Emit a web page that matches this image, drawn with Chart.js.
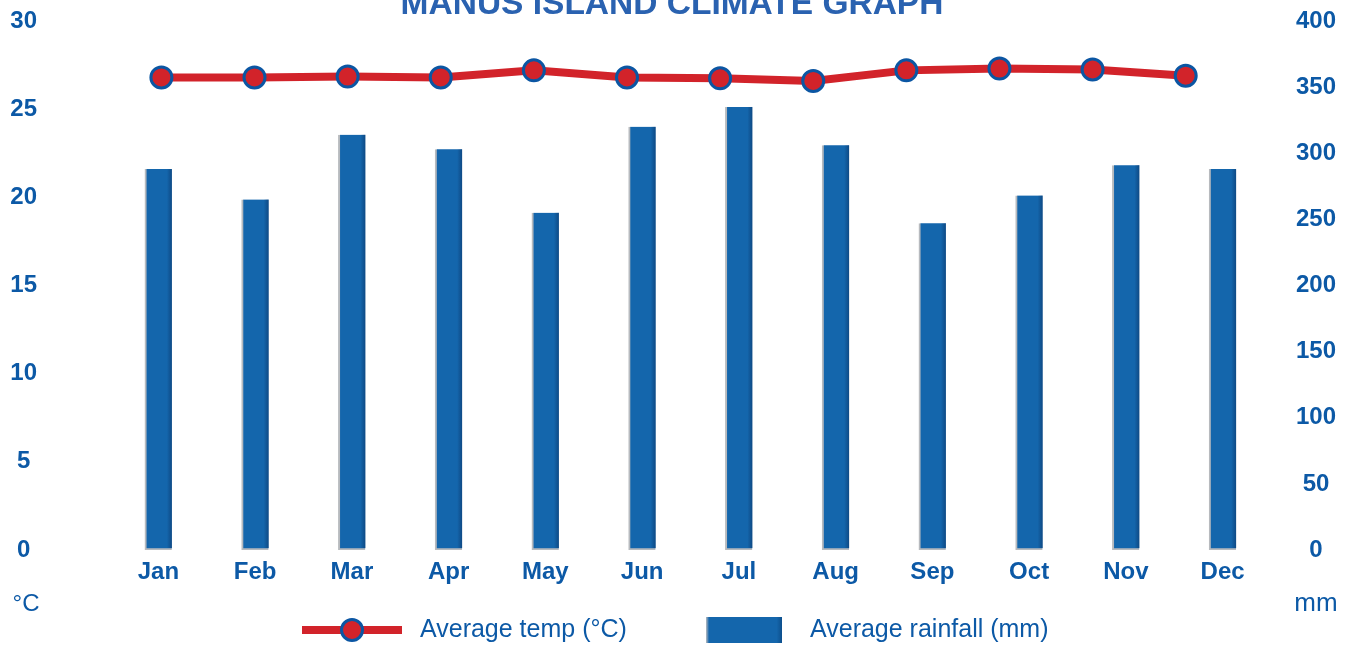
<!DOCTYPE html>
<html>
<head>
<meta charset="utf-8">
<script src="https://cdn.jsdelivr.net/npm/chart.js@4.4.0/dist/chart.umd.min.js"></script>
<style>
  html, body { margin: 0; padding: 0; background: #fff; }
  #wrap { position: relative; width: 1354px; height: 646px; overflow: hidden; }
</style>
</head>
<body>
<div id="wrap"><canvas id="climateChart" width="1354" height="646"></canvas></div>
<script>
'use strict';

/* --- Data --- */
const MONTHS = ['Jan', 'Feb', 'Mar', 'Apr', 'May', 'Jun', 'Jul', 'Aug', 'Sep', 'Oct', 'Nov', 'Dec'];
const TEMP_C = [26.8, 26.8, 26.85, 26.8, 27.2, 26.8, 26.75, 26.6, 27.2, 27.3, 27.25, 26.9];
const RAIN_MM = [288, 265, 314, 303, 255, 320, 335, 306, 247, 268, 291, 288];
const TEMP_TICKS = [0, 5, 10, 15, 20, 25, 30];
const RAIN_TICKS = [0, 50, 100, 150, 200, 250, 300, 350, 400];

const TITLE = 'MANUS ISLAND CLIMATE GRAPH';
const TEMP_LABEL = 'Average temp (\u00B0C)';
const RAIN_LABEL = 'Average rainfall (mm)';

const TEXT_BLUE = '#0c59a6';
const BAR_BLUE = '#1466ac';
const RED = '#d2232a';
const POINT_EDGE = '#0b56a3';
const FONT = '"Liberation Sans", Arial, Helvetica, sans-serif';

Chart.defaults.font.family = FONT;
Chart.defaults.color = TEXT_BLUE;

/* --- Extras: bar shading, title, unit labels, legend --- */
const extrasPlugin = {
  id: 'climateExtras',
  afterDatasetDraw(chart, args) {
    if (args.meta.type !== 'bar') return;
    const c = chart.ctx;
    args.meta.data.forEach(bar => {
      const { x, y, base, width } = bar.getProps(['x', 'y', 'base', 'width'], true);
      const right = x + width / 2;
      const g = c.createLinearGradient(right - 5, 0, right, 0);
      g.addColorStop(0, 'rgba(10,50,100,0)');
      g.addColorStop(1, 'rgba(10,50,100,0.55)');
      c.save();
      c.fillStyle = g;
      c.fillRect(right - 5, y, 5, base - y - 2);
      c.restore();
    });
  },
  afterDraw(chart) {
    const c = chart.ctx;
    c.save();
    // title, mostly cut off at the top edge
    c.fillStyle = '#2a62b0';
    c.font = 'bold 33.5px ' + FONT;
    c.textAlign = 'center';
    c.textBaseline = 'alphabetic';
    c.fillText(TITLE, 672, 14);

    // axis units
    c.fillStyle = TEXT_BLUE;
    c.font = '24px ' + FONT;
    c.fillText('\u00B0C', 26, 611);
    c.font = '26px ' + FONT;
    c.fillText('mm', 1316, 611);

    // legend: temperature
    c.strokeStyle = RED;
    c.lineWidth = 8;
    c.beginPath();
    c.moveTo(302, 630);
    c.lineTo(402, 630);
    c.stroke();
    c.beginPath();
    c.arc(352, 630, 10.5, 0, Math.PI * 2);
    c.fillStyle = RED;
    c.fill();
    c.lineWidth = 3;
    c.strokeStyle = POINT_EDGE;
    c.stroke();

    // legend: rainfall
    const g = c.createLinearGradient(706, 0, 782, 0);
    g.addColorStop(0, '#b9bcc0');
    g.addColorStop(0.04, BAR_BLUE);
    g.addColorStop(0.93, BAR_BLUE);
    g.addColorStop(1, '#0d4f8c');
    c.fillStyle = g;
    c.fillRect(706, 617, 76, 26);

    c.fillStyle = TEXT_BLUE;
    c.font = '25px ' + FONT;
    c.textAlign = 'left';
    c.fillText(TEMP_LABEL, 420, 637);
    c.fillText(RAIN_LABEL, 810, 637);
    c.restore();
  }
};

/* keep tick padding from pushing the plot area around */
function fixedWidth(w) {
  return s => { s.width = w; s.paddingTop = 0; s.paddingBottom = 0; };
}

/* --- Chart --- */
const ctx = document.getElementById('climateChart');
new Chart(ctx, {
  data: {
    labels: MONTHS,
    datasets: [{
      type: 'line',
      label: TEMP_LABEL,
      data: TEMP_C.map((t, i) => ({ x: i, y: t })),
      xAxisID: 'xLine',
      yAxisID: 'yTemp',
      borderColor: RED,
      borderWidth: 8,
      tension: 0,
      pointRadius: 10.5,
      pointBorderWidth: 3,
      pointBackgroundColor: RED,
      pointBorderColor: POINT_EDGE,
      order: 0
    }, {
      type: 'bar',
      label: RAIN_LABEL,
      data: RAIN_MM,
      xAxisID: 'x',
      yAxisID: 'yRain',
      backgroundColor: BAR_BLUE,
      borderColor: '#b7babe',
      borderWidth: { left: 2, right: 0, top: 0, bottom: 2 },
      borderSkipped: false,
      barThickness: 27,
      grouped: false,
      order: 1
    }]
  },
  options: {
    responsive: false,
    animation: false,
    devicePixelRatio: 1,
    layout: { padding: { top: 21, left: 0, right: 0, bottom: 0 } },
    plugins: { legend: { display: false }, tooltip: { enabled: false } },
    scales: {
      x: {
        type: 'category',
        position: 'bottom',
        grid: { display: false, drawTicks: false },
        border: { display: false },
        ticks: { font: { size: 24, weight: 'bold' }, color: TEXT_BLUE, padding: 8, maxRotation: 0 },
        afterFit: s => { s.height = 96; }
      },
      xLine: {
        type: 'linear',
        display: false,
        min: -0.552,
        max: 11.916
      },
      yTemp: {
        position: 'left',
        min: 0, max: 30,
        grid: { display: false, drawTicks: false },
        border: { display: false },
        afterBuildTicks: s => { s.ticks = TEMP_TICKS.map(v => ({ value: v })); },
        ticks: { font: { size: 24, weight: 'bold' }, color: TEXT_BLUE, crossAlign: 'center', padding: 73 },
        afterFit: fixedWidth(110)
      },
      yRain: {
        position: 'right',
        min: 0, max: 400,
        grid: { display: false, drawTicks: false },
        border: { display: false },
        afterBuildTicks: s => { s.ticks = RAIN_TICKS.map(v => ({ value: v })); },
        ticks: { font: { size: 24, weight: 'bold' }, color: TEXT_BLUE, crossAlign: 'center', padding: 25 },
        afterFit: fixedWidth(83)
      }
    }
  },
  plugins: [extrasPlugin]
});
</script>
</body>
</html>
